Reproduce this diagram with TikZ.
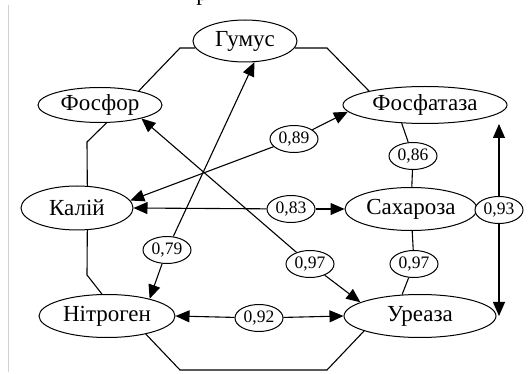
\documentclass[tikz,border=0pt]{standalone}
\usepackage{fontspec}
\setmainfont{Liberation Serif}
\usetikzlibrary{shapes.geometric,arrows.meta}
\tikzset{
  big/.style={ellipse,draw,line width=1pt,fill=white,inner sep=0pt,font=\fontsize{23}{27}\selectfont},
  lab/.style={ellipse,draw,line width=1pt,fill=white,inner sep=0pt,minimum width=48pt,minimum height=27pt,font=\fontsize{17.5}{20}\selectfont},
  edge/.style={line width=1.1pt},
  arr/.style={line width=1.1pt,-{Triangle[length=14pt,width=12pt]}},
}
\begin{document}
\begin{tikzpicture}[x=1pt,y=-1pt]
\useasboundingbox (0,0) rectangle (531,374);
\draw[gray!35,line width=1pt] (8,5) -- (8,372);
\node[anchor=base,font=\fontsize{23}{27}\selectfont] (cap) at (202,0.5) {р};
% main nodes
\node[big,minimum width=104pt,minimum height=42pt] (gum) at (245,41) {Гумус};
\node[big,minimum width=124pt,minimum height=35pt] (phos) at (100,105) {Фосфор};
\node[big,minimum width=164pt,minimum height=37pt] (phtz) at (425,105) {Фосфатаза};
\node[big,minimum width=112pt,minimum height=44pt] (kal) at (77,208) {Калій};
\node[big,minimum width=132pt,minimum height=43pt] (sah) at (411,209) {Сахароза};
\node[big,minimum width=136pt,minimum height=43pt] (nit) at (107,316) {Нітроген};
\node[big,minimum width=152pt,minimum height=43pt] (ur) at (420,316) {Уреаза};
% labels
\node[lab] (l89) at (294,139) {0,89};
\node[lab] (l83) at (291,209) {0,83};
\node[lab] (l86) at (413,156) {0,86};
\node[lab] (l93) at (499,210) {0,93};
\node[lab] (l79) at (167,250) {0,79};
\node[lab] (l97a) at (310,264) {0,97};
\node[lab] (l97b) at (414,264) {0,97};
\node[lab] (l92) at (259,318) {0,92};
% octagon corners
\coordinate (c1) at (180,48);
\coordinate (c2) at (327,48);
\coordinate (c3) at (87,142);
\coordinate (c4) at (87,275);
\coordinate (c5) at (180,370);
\coordinate (c6) at (327,370);
% octagon
\draw[edge] (gum.188) -- (c1) -- (phos.20);
\draw[edge] (gum.352) -- (c2) -- (phtz.166);
\draw[edge] (phos.290) -- (c3) -- (kal.65);
\draw[edge] (kal.295) -- (c4) -- (nit.103);
\draw[edge] (nit.335) -- (c5) -- (c6) -- (ur.195);
\draw[edge] (phtz.218) -- (l86);
\draw[edge] (l86) -- (sah);
\draw[edge] (sah) -- (l97b);
\draw[edge] (l97b) -- (ur.130);
% arrows
\draw[arr] (l79) -- (gum.294);
\draw[arr] (l79) -- (nit.22);
\draw[arr] (l89) -- (phtz.185);
\draw[arr] (l89) -- (kal.8);
\draw[arr] (l83) -- (kal.east);
\draw[arr] (l83) -- (sah.west);
\draw[arr] (l97a) -- (phos.342);
\draw[arr] (l97a) -- (ur.167);
\draw[arr] (l92) -- (nit.east);
\draw[arr] (l92) -- (ur.west);
\draw[arr] (l93) -- (l93 |- phtz.south);
\draw[arr] (l93) -- (l93 |- ur.east);
\end{tikzpicture}
\end{document}
